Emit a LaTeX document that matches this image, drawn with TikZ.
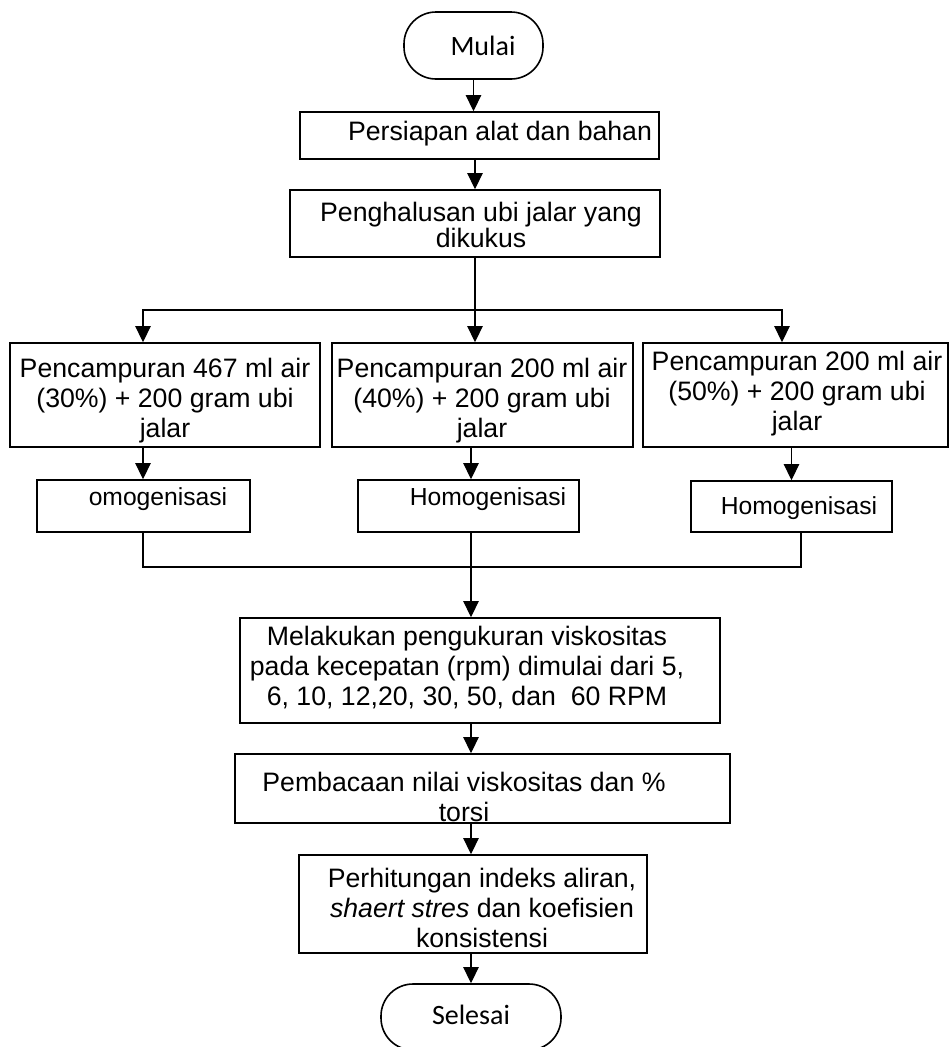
\documentclass[tikz,border=0pt]{standalone}
\usepackage{fontspec}
\setmainfont{Liberation Sans}
\newfontfamily\termfont{Carlito}
\usetikzlibrary{arrows.meta,fit}

\begin{document}
\begin{tikzpicture}[
  x=0.75pt, y=-0.75pt,
  every node/.style = {font=\fontsize{20}{22.5}\selectfont},
  box/.style  = {draw, line width=1.2pt, inner sep=0pt},
  term/.style = {draw, line width=1.2pt, inner sep=0pt, rounded corners=24pt},
  txt/.style  = {align=center, inner sep=0pt},
  small/.style = {font=\fontsize{18.5}{22}\selectfont},
  arr/.style  = {-{Triangle[length=12pt, width=11.5pt]}, line width=0.9pt},
  link/.style = {line width=0.9pt},
]
\useasboundingbox (0,0) rectangle (950,1047);

% ── Start ───────────────────────────────────────────────────────────────────
\node[term, fit={(404,12) (543,79)}] (mulai) {};
\node[txt, font=\termfont\fontsize{21}{24}\selectfont] at (483,46) {Mulai};

% ── Preparation ─────────────────────────────────────────────────────────────
\node[box, fit={(300,112) (659,159)}] (persiapan) {};
\node[txt] at (500,134) {Persiapan alat dan bahan};

\node[box, fit={(290,190) (660,257)}] (penghalusan) {};
\node[txt] at (481,225) {Penghalusan ubi jalar yang\\[-2.5pt]dikukus};

% ── Three mixtures ──────────────────────────────────────────────────────────
\node[box, fit={(10,343) (320,447)}] (campurA) {};
\node[txt] at (165,401) {Pencampuran 467 ml air\\(30\%) + 200 gram ubi\\jalar};

\node[box, fit={(332,343) (633,447)}] (campurB) {};
\node[txt] at (482,401) {Pencampuran 200 ml air\\(40\%) + 200 gram ubi\\jalar};

\node[box, fit={(643,343) (948,447)}] (campurC) {};
\node[txt] at (797,394) {Pencampuran 200 ml air\\(50\%) + 200 gram ubi\\jalar};

% ── Homogenisation ──────────────────────────────────────────────────────────
\node[box, fit={(37,480) (250,532)}] (homogA) {};
\node[txt, small] at (158,499) {omogenisasi};

\node[box, fit={(358,480) (579,532)}] (homogB) {};
\node[txt, small] at (488,499) {Homogenisasi};

\node[box, fit={(691,481) (892,532)}] (homogC) {};
\node[txt, small] at (799,508) {Homogenisasi};

% ── Measurement and calculation ─────────────────────────────────────────────
\node[box, fit={(240,618) (720,723)}] (ukur) {};
\node[txt] at (467,668) {Melakukan pengukuran viskositas\\pada kecepatan (rpm) dimulai dari 5,\\6, 10, 12,20, 30, 50, dan~~60 RPM};

\node[box, fit={(235,754) (730,823)}] (baca) {};
\node[txt] at (464,797) {Pembacaan nilai viskositas dan \%\\torsi};

\node[box, fit={(299,855) (647,953)}] (hitung) {};
\node[txt] at (482,908) {Perhitungan indeks aliran,\\\textit{shaert stres} dan koefisien\\konsistensi};

% ── End ─────────────────────────────────────────────────────────────────────
\node[term, fit={(381,984) (561,1050)}] (selesai) {};
\node[txt, font=\termfont\fontsize{21}{24}\selectfont] at (471,1015) {Selesai};

% ── Connectors ──────────────────────────────────────────────────────────────
\coordinate (bagi)    at (475,310);
\coordinate (kiri)    at (143,310);
\coordinate (kanan)   at (782,310);
\coordinate (gabung)  at (471,567);
\coordinate (gkanan)  at (801,567);

\draw[arr] (mulai.south) -- (mulai.south |- persiapan.north);
\draw[arr] (bagi |- persiapan.south) -- (bagi |- penghalusan.north);
\draw[link] (bagi |- penghalusan.south) -- (bagi);
\draw[arr] (bagi) -- (bagi |- campurB.north);
\draw[arr] (bagi) -- (kiri) -- (kiri |- campurA.north);
\draw[arr] (bagi) -- (kanan) -- (kanan |- campurC.north);

\draw[arr] (kiri |- campurA.south) -- (kiri |- homogA.north);
\draw[arr] (gabung |- campurB.south) -- (gabung |- homogB.north);
\draw[arr] (homogC.north |- campurC.south) -- (homogC.north);

\draw[link] (kiri |- homogA.south) -- (kiri |- gabung) -- (gkanan) -- (gkanan |- homogC.south);
\draw[link] (gabung |- homogB.south) -- (gabung);
\draw[arr] (gabung) -- (gabung |- ukur.north);
\draw[arr] (gabung |- ukur.south) -- (gabung |- baca.north);
\draw[arr] (gabung |- baca.south) -- (gabung |- hitung.north);
\draw[arr] (gabung |- hitung.south) -- (gabung |- selesai.north);

\end{tikzpicture}
\end{document}
